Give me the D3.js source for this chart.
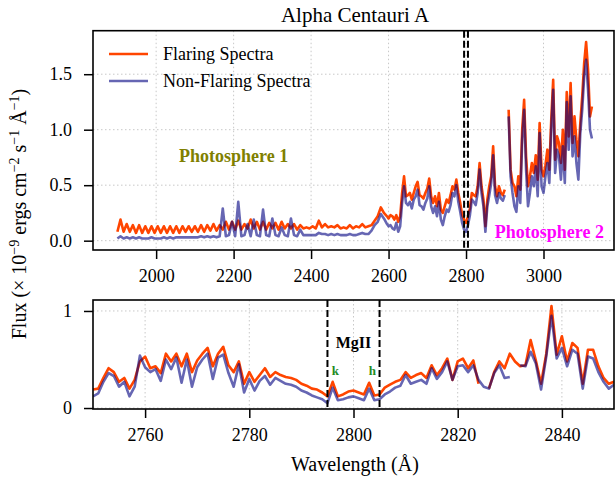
<!DOCTYPE html>
<html>
<head>
<meta charset="utf-8">
<script src="https://cdn.jsdelivr.net/npm/d3@7/dist/d3.min.js"></script>
<style>
  body { margin: 0; background: #fff; }
  svg { display: block; font-family: "Liberation Serif", "DejaVu Serif", serif; }
</style>
</head>
<body>
<div id="chart"></div>
<script>
// Top panel: full range, sampled every 8 A up to 2600, then every 5 A
const topWaveA = d3.range(1900, 2600, 8);
const topWaveB = d3.range(2600, 3126, 5);

const flareTopA = [
  0.08,0.19,0.08,0.15,0.08,0.14,0.07,0.14,0.07,0.13,
  0.07,0.13,0.07,0.13,0.07,0.13,0.07,0.13,0.07,0.13,
  0.07,0.13,0.08,0.13,0.08,0.13,0.08,0.14,0.08,0.14,
  0.09,0.15,0.09,0.14,0.10,0.17,0.10,0.17,0.10,0.18,
  0.10,0.15,0.11,0.19,0.11,0.17,0.10,0.17,0.10,0.16,
  0.11,0.16,0.10,0.17,0.11,0.15,0.11,0.15,0.10,0.14,
  0.11,0.12,0.11,0.13,0.11,0.18,0.12,0.15,0.12,0.13,
  0.12,0.14,0.11,0.12,0.11,0.14,0.11,0.13,0.12,0.15,
  0.12,0.13,0.14,0.18,0.22,0.30,0.25,0.22
];
const quietTopA = [
  0.02,0.04,0.02,0.03,0.02,0.03,0.02,0.03,0.02,0.02,
  0.02,0.03,0.02,0.02,0.02,0.03,0.02,0.03,0.02,0.03,
  0.03,0.03,0.03,0.03,0.03,0.03,0.03,0.04,0.03,0.04,
  0.03,0.04,0.03,0.04,0.29,0.04,0.05,0.17,0.04,0.35,
  0.04,0.05,0.15,0.04,0.19,0.05,0.04,0.28,0.05,0.04,
  0.20,0.05,0.04,0.12,0.05,0.04,0.20,0.05,0.04,0.10,
  0.05,0.05,0.05,0.05,0.05,0.07,0.06,0.06,0.05,0.06,
  0.05,0.06,0.05,0.05,0.05,0.06,0.05,0.05,0.06,0.07,
  0.06,0.06,0.09,0.14,0.17,0.24,0.20,0.15
];
const flareTopB = [
  0.20,0.23,0.22,0.19,0.23,0.17,0.22,0.43,0.58,0.40,
  0.41,0.43,0.37,0.43,0.49,0.53,0.41,0.40,0.38,0.43,
  0.47,0.56,0.40,0.34,0.40,0.31,0.43,0.28,0.25,0.31,
  0.37,0.34,0.41,0.49,0.46,0.55,0.43,0.34,0.23,0.19,
  0.16,0.22,0.29,0.43,0.41,0.40,0.49,0.70,0.49,0.37,
  0.13,0.37,0.49,0.58,0.85,0.49,0.40,0.49,0.43,0.41,
  0.46,null,1.18,0.64,0.52,0.49,0.40,0.58,0.46,1.00,
  1.27,0.76,0.49,0.58,0.70,0.61,0.77,0.55,1.06,0.64,
  0.58,0.68,0.82,0.64,1.09,1.45,0.73,0.94,0.88,0.70,
  1.00,0.64,1.34,0.94,1.42,0.88,1.12,0.91,0.76,1.06,
  1.30,1.60,1.79,1.54,1.12,1.21
];
const quietTopB = [
  0.13,0.14,0.11,0.10,0.16,0.08,0.13,0.34,0.49,0.34,
  0.32,0.35,0.29,0.37,0.40,0.46,0.32,0.31,0.28,0.34,
  0.38,0.49,0.31,0.25,0.31,0.22,0.35,0.19,0.14,0.22,
  0.28,0.26,0.32,0.43,0.40,0.50,0.35,0.26,0.16,0.10,
  0.08,0.14,0.23,0.37,0.35,0.32,0.43,0.64,0.43,0.31,
  0.08,0.31,0.41,0.52,0.77,0.41,0.34,0.43,0.38,0.36,
  0.41,null,1.12,0.58,0.43,0.31,0.26,0.49,0.34,0.91,
  1.18,0.64,0.31,0.43,0.58,0.49,0.67,0.40,0.97,0.49,
  0.43,0.58,0.70,0.52,1.00,1.36,0.61,0.82,0.76,0.55,
  0.85,0.52,1.25,0.82,1.30,0.76,0.94,0.70,0.55,0.97,
  1.18,1.48,1.63,1.36,1.00,0.92
];

// Bottom panel: zoom on Mg II h & k, 1 A steps
const bottomWave = d3.range(2750, 2851, 1);
const flareBottom = [
  0.19,0.20,0.31,0.41,0.37,0.27,0.31,0.20,0.29,0.48,
  0.53,0.41,0.43,0.36,0.56,0.48,0.56,0.43,0.56,0.37,
  0.49,0.56,0.62,0.43,0.56,0.63,0.44,0.37,0.48,0.25,
  0.37,0.27,0.34,0.41,0.32,0.37,0.34,0.32,0.31,0.29,
  0.25,0.23,0.20,0.19,0.16,0.12,0.27,0.12,0.14,0.17,
  0.18,0.16,0.14,0.26,0.13,0.14,0.21,0.24,0.27,0.29,
  0.37,0.31,0.34,0.36,0.31,0.44,0.34,0.41,0.51,0.29,
  0.48,0.51,0.41,0.49,0.25,null,0.20,0.37,0.48,0.41,
  0.56,0.48,0.43,0.44,0.70,0.49,0.25,0.56,1.05,0.55,
  0.74,0.48,0.67,0.62,0.25,0.60,0.60,0.43,0.31,0.25,
  0.27
];
const quietBottom = [
  0.12,0.15,0.27,0.36,0.33,0.22,0.27,0.12,0.22,0.54,
  0.42,0.37,0.40,0.28,0.50,0.40,0.52,0.26,0.50,0.22,
  0.42,0.50,0.56,0.30,0.52,0.55,0.36,0.22,0.45,0.16,
  0.30,0.18,0.28,0.33,0.24,0.31,0.28,0.25,0.24,0.22,
  0.18,0.16,0.13,0.11,0.09,0.05,0.21,0.08,0.09,0.11,
  0.12,0.10,0.08,0.20,0.08,0.09,0.14,0.17,0.21,0.23,
  0.34,0.25,0.27,0.29,0.25,0.41,0.30,0.37,0.48,0.29,
  0.43,0.44,0.37,0.44,0.29,0.22,0.20,0.36,0.44,0.31,
  0.32,null,0.44,0.43,0.58,0.46,0.19,0.53,0.95,0.51,
  0.62,0.43,0.60,0.56,0.20,0.53,0.51,0.37,0.27,0.20,
  0.24
];

const topXTicks = [2000, 2200, 2400, 2600, 2800, 3000];
const topYTicks = [0, 0.5, 1.0, 1.5];
const bottomXTicks = [2760, 2780, 2800, 2820, 2840];
const bottomYTicks = [0, 1];
const mgLines = [2795, 2805];

const flareColor = "#ff4500";
const quietColor = "#000080";

const W = 615, H = 480;
const svg = d3.select("#chart").append("svg")
  .attr("width", W).attr("height", H);

const left = 93, right = 614;
const topPanel = {top: 30.7, bottom: 250};
const botPanel = {top: 300, bottom: 409};

const xTop = d3.scaleLinear().domain([1837, 3182]).range([left, right]);
const yTop = d3.scaleLinear().domain([-0.084, 1.892]).range([topPanel.bottom, topPanel.top]);
const xBot = d3.scaleLinear().domain([2750, 2850]).range([left, right]);
const yBot = d3.scaleLinear().domain([-0.01, 1.113]).range([botPanel.bottom, botPanel.top]);

const zipSeries = (w, v) => w.map((d, i) => [d, v[i]]);
const topFlare = zipSeries(topWaveA, flareTopA).concat(zipSeries(topWaveB, flareTopB));
const topQuiet = zipSeries(topWaveA, quietTopA).concat(zipSeries(topWaveB, quietTopB));
const botFlare = zipSeries(bottomWave, flareBottom);
const botQuiet = zipSeries(bottomWave, quietBottom);

function drawPanel(id, x, y, p, xTicks, yTicks, yFmt, flare, quiet) {
  const g = svg.append("g");

  // dotted grid
  g.append("g").selectAll("line.gx").data(xTicks).join("line")
    .attr("x1", d => x(d)).attr("x2", d => x(d))
    .attr("y1", p.top).attr("y2", p.bottom);
  g.append("g").selectAll("line.gy").data(yTicks).join("line")
    .attr("x1", left).attr("x2", right)
    .attr("y1", d => y(d)).attr("y2", d => y(d));
  g.selectAll("line")
    .attr("stroke", "#c8c8c8")
    .attr("stroke-width", 1)
    .attr("stroke-dasharray", "1.5,2.5");

  svg.append("clipPath").attr("id", id)
    .append("rect")
    .attr("x", left).attr("y", p.top)
    .attr("width", right - left).attr("height", p.bottom - p.top);

  const line = d3.line()
    .defined(d => d[1] != null)
    .x(d => x(d[0]))
    .y(d => y(d[1]));

  const lines = g.append("g").attr("clip-path", `url(#${id})`);
  lines.append("path").datum(flare)
    .attr("fill", "none").attr("stroke", flareColor)
    .attr("stroke-width", 2.6).attr("stroke-linejoin", "round")
    .attr("d", line);
  lines.append("path").datum(quiet)
    .attr("fill", "none").attr("stroke", quietColor)
    .attr("stroke-opacity", 0.6)
    .attr("stroke-width", 2.6).attr("stroke-linejoin", "round")
    .attr("d", line);

  // Mg II h & k markers
  lines.selectAll("line.mg").data(mgLines).join("line")
    .attr("class", "mg")
    .attr("x1", d => x(d)).attr("x2", d => x(d))
    .attr("y1", p.top).attr("y2", p.bottom)
    .attr("stroke", "#000").attr("stroke-width", 2)
    .attr("stroke-dasharray", "7,3");

  // axes
  const gx = g.append("g")
    .attr("transform", `translate(0,${p.bottom})`)
    .call(d3.axisBottom(x).tickValues(xTicks).tickFormat(d3.format("d"))
      .tickSize(9).tickPadding(10));
  const gy = g.append("g")
    .attr("transform", `translate(${left},0)`)
    .call(d3.axisLeft(y).tickValues(yTicks).tickFormat(yFmt)
      .tickSize(9).tickPadding(12));
  [gx, gy].forEach(a => {
    a.select(".domain").remove();
    a.selectAll(".tick line").attr("stroke", "#000").attr("stroke-width", 1.5);
    a.selectAll(".tick text")
      .attr("fill", "#000")
      .style("font-family", '"Liberation Serif", "DejaVu Serif", serif')
      .style("font-size", "18px");
  });

  g.append("rect")
    .attr("x", left).attr("y", p.top)
    .attr("width", right - left).attr("height", p.bottom - p.top)
    .attr("fill", "none").attr("stroke", "#000").attr("stroke-width", 1.6);
  return g;
}

drawPanel("clipTop", xTop, yTop, topPanel, topXTicks, topYTicks, d3.format(".1f"), topFlare, topQuiet);
drawPanel("clipBot", xBot, yBot, botPanel, bottomXTicks, bottomYTicks, d3.format("d"), botFlare, botQuiet);

// Title
svg.append("text")
  .attr("x", 355).attr("y", 22)
  .attr("text-anchor", "middle")
  .style("font-size", "21px")
  .text("Alpha Centauri A");

// Legend
const legendItems = [
  {label: "Flaring Spectra", color: flareColor, opacity: 1},
  {label: "Non-Flaring Spectra", color: quietColor, opacity: 0.6}
];
const legend = svg.append("g");
legendItems.forEach((d, i) => {
  const ly = 54 + i * 27;
  legend.append("line")
    .attr("x1", 109).attr("x2", 148).attr("y1", ly).attr("y2", ly)
    .attr("stroke", d.color).attr("stroke-opacity", d.opacity)
    .attr("stroke-width", 2.6);
  legend.append("text")
    .attr("x", 163).attr("y", ly + 6)
    .style("font-size", "18px")
    .text(d.label);
});

// Region labels
svg.append("text")
  .attr("x", xTop(2200)).attr("y", yTop(0.71))
  .attr("text-anchor", "middle")
  .attr("fill", "#808000").attr("font-weight", "bold")
  .style("font-size", "18px")
  .text("Photosphere 1");
svg.append("text")
  .attr("x", xTop(3015)).attr("y", yTop(0.02))
  .attr("text-anchor", "middle")
  .attr("fill", "#ff00ff").attr("font-weight", "bold")
  .style("font-size", "18px")
  .text("Photosphere 2");

svg.append("text")
  .attr("x", xBot(2800)).attr("y", 348)
  .attr("text-anchor", "middle")
  .attr("font-weight", "bold")
  .style("font-size", "16px")
  .text("MgII");
[["k", 2796.5], ["h", 2803.6]].forEach(([t, w]) => {
  svg.append("text")
    .attr("x", xBot(w)).attr("y", 375)
    .attr("text-anchor", "middle")
    .attr("fill", "#228b22").attr("font-weight", "bold")
    .style("font-size", "13px")
    .text(t);
});

// Axis labels
svg.append("text")
  .attr("x", 355).attr("y", 471)
  .attr("text-anchor", "middle")
  .style("font-size", "20px")
  .text("Wavelength (Å)");

const yLabel = svg.append("text")
  .attr("transform", "translate(26,214) rotate(-90)")
  .attr("text-anchor", "middle")
  .style("font-size", "20px");
const sup = (s) => yLabel.append("tspan")
  .attr("baseline-shift", "super").style("font-size", "14px").text(s);
yLabel.append("tspan").text("Flux (× 10");
sup("−9");
yLabel.append("tspan").text(" ergs cm");
sup("−2");
yLabel.append("tspan").text(" s");
sup("−1");
yLabel.append("tspan").text(" Å");
sup("−1");
yLabel.append("tspan").text(")");
</script>
</body>
</html>
